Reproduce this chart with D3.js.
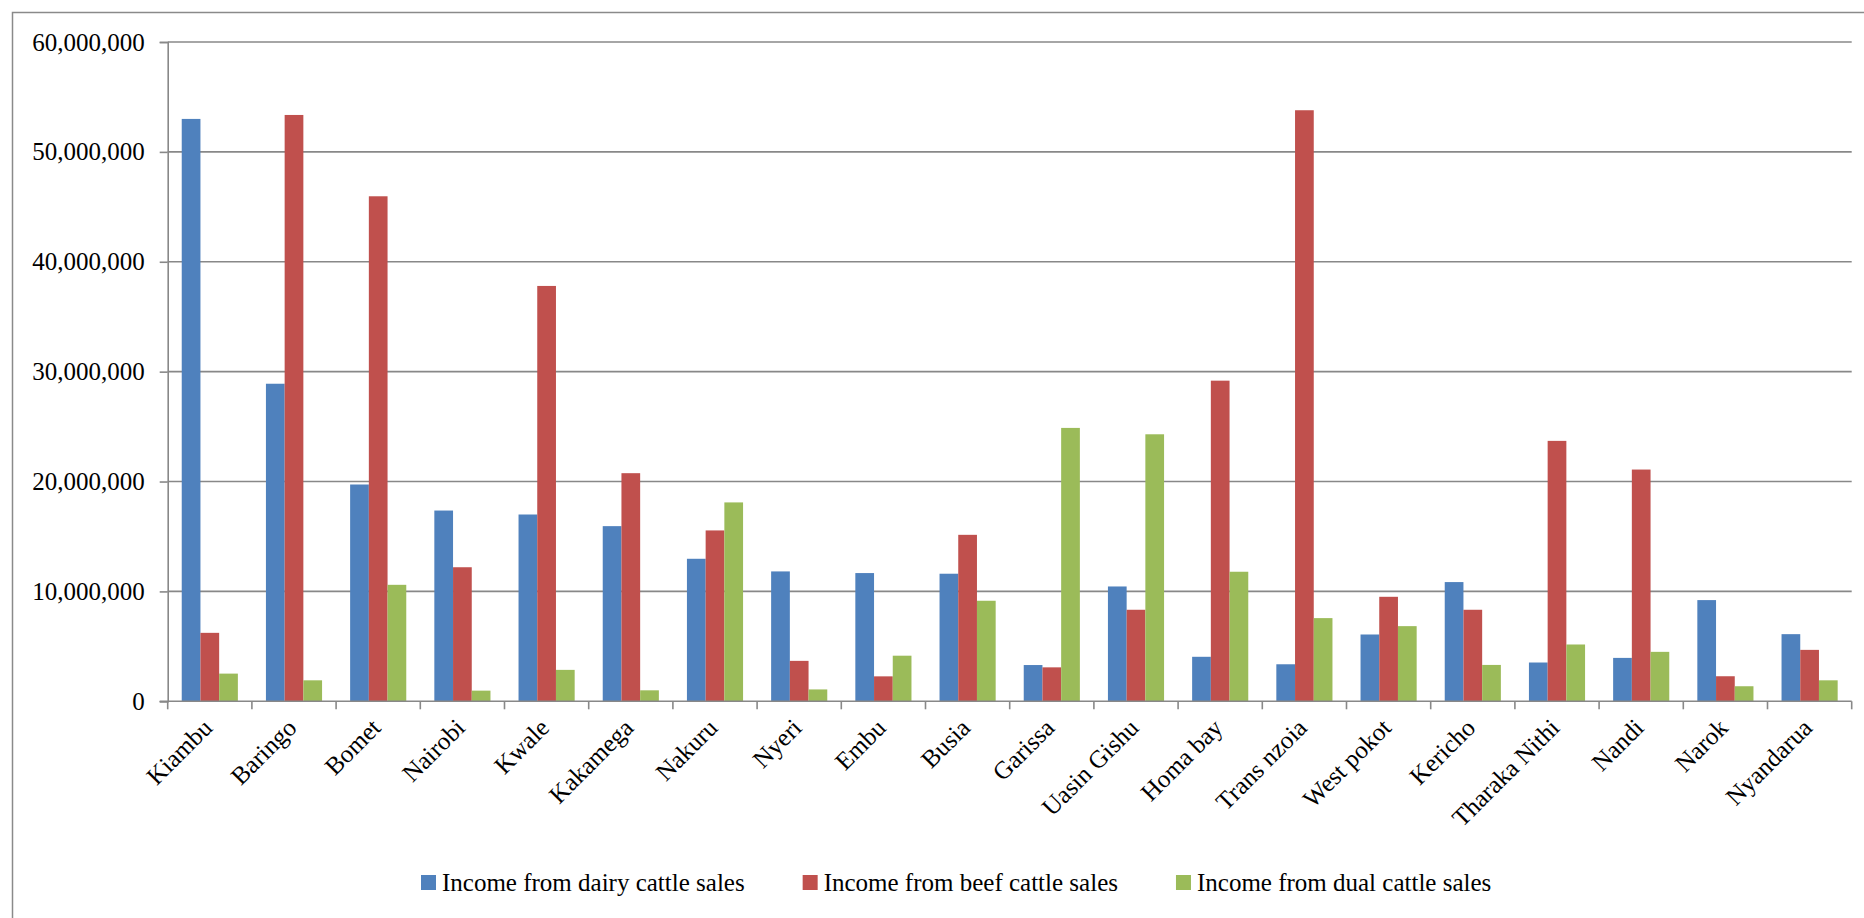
<!DOCTYPE html>
<html>
<head>
<meta charset="utf-8">
<script src="https://cdn.jsdelivr.net/npm/d3@7"></script>
<style>
  html, body { margin: 0; padding: 0; background: #ffffff; }
  svg { display: block; }
  text { font-family: "Liberation Serif", "Times New Roman", serif; fill: #000; }
</style>
</head>
<body>
<svg id="chart" width="1864" height="918"></svg>
<script>
const categories = ["Kiambu","Baringo","Bomet","Nairobi","Kwale","Kakamega","Nakuru","Nyeri","Embu","Busia","Garissa","Uasin Gishu","Homa bay","Trans nzoia","West pokot","Kericho","Tharaka Nithi","Nandi","Narok","Nyandarua"];
const seriesNames = ["Income from dairy cattle sales","Income from beef cattle sales","Income from dual cattle sales"];
const dairy = [53000000,28900000,19730000,17360000,17000000,15940000,12970000,11820000,11670000,11610000,3300000,10450000,4050000,3370000,6080000,10850000,3530000,3950000,9210000,6110000];
const beef  = [6230000,53360000,45960000,12200000,37800000,20760000,15550000,3680000,2270000,15150000,3090000,8330000,29180000,53790000,9510000,8330000,23700000,21090000,2280000,4680000];
const dual  = [2520000,1910000,10600000,970000,2860000,1000000,18100000,1080000,4150000,9150000,24880000,24300000,11790000,7570000,6840000,3310000,5170000,4500000,1370000,1910000];
const yTicks = [0,10000000,20000000,30000000,40000000,50000000,60000000];
const colors = ["#4F81BD","#C0504D","#9BBB59"];

(function () {
const FONT = '"Liberation Serif", "Times New Roman", serif';
const svg = d3.select("#chart");
const pLeft = 167.7, pRight = 1851.7, pTop = 42, pBottom = 701.3;
const gridColor = "#888888";

// outer chart border
svg.append("rect").attr("x", 12.5).attr("y", 12.5).attr("width", 1864).attr("height", 918)
  .attr("fill", "none").attr("stroke", "#8a8a8a").attr("stroke-width", 1.5);

const x0 = d3.scaleBand().domain(categories).range([pLeft, pRight]).paddingInner(0).paddingOuter(0);
// gap width 150% => each bar = band/4.5
const x1 = d3.scaleBand().domain(d3.range(3)).range([0, x0.bandwidth()]).paddingInner(0).paddingOuter(0.75);
const y = d3.scaleLinear().domain([0, 60000000]).range([pBottom, pTop]);

// gridlines
svg.append("g").selectAll("line").data(yTicks.filter(d => d > 0)).join("line")
  .attr("x1", pLeft).attr("x2", pRight)
  .attr("y1", d => y(d)).attr("y2", d => y(d))
  .attr("stroke", gridColor).attr("stroke-width", 1.6);

// bars
const series = [dairy, beef, dual];
const g = svg.append("g");
categories.forEach((c, i) => {
  series.forEach((s, k) => {
    g.append("rect")
      .attr("x", x0(c) + x1(k))
      .attr("width", x1.bandwidth())
      .attr("y", y(s[i]))
      .attr("height", y(0) - y(s[i]))
      .attr("fill", colors[k]);
  });
});

// y axis
const yAxis = d3.axisLeft(y).tickValues(yTicks).tickSize(8).tickPadding(15)
  .tickFormat(d3.format(","));
const yg = svg.append("g").attr("transform", `translate(${pLeft},0)`).call(yAxis)
  .attr("font-family", FONT).attr("font-size", 25);
yg.select(".domain").attr("stroke", gridColor).attr("stroke-width", 1.6);
yg.selectAll(".tick line").attr("stroke", gridColor).attr("stroke-width", 1.6);
yg.selectAll(".tick text").attr("font-size", 25).attr("font-family", FONT).attr("fill", "#000");

// x axis
const xg = svg.append("g").attr("transform", `translate(0,${pBottom})`);
xg.append("line").attr("x1", pLeft - 8).attr("x2", pRight).attr("y1", 0).attr("y2", 0)
  .attr("stroke", gridColor).attr("stroke-width", 1.6);
const bounds = categories.map(c => x0(c)).concat([pRight]);
xg.selectAll("line.tk").data(bounds).join("line").attr("class", "tk")
  .attr("x1", d => d).attr("x2", d => d).attr("y1", 0).attr("y2", 8)
  .attr("stroke", gridColor).attr("stroke-width", 1.6);
xg.selectAll("text.lbl").data(categories).join("text").attr("class", "lbl")
  .attr("transform", d => `translate(${x0(d) + x0.bandwidth() / 2 + 4},${28}) rotate(-45)`)
  .attr("text-anchor", "end")
  .attr("font-family", FONT)
  .attr("font-size", 25)
  .text(d => d);

// legend
const legend = svg.append("g");
let lx = 421;
seriesNames.forEach((name, k) => {
  legend.append("rect").attr("x", lx).attr("y", 875).attr("width", 15).attr("height", 15).attr("fill", colors[k]);
  const t = legend.append("text").attr("x", lx + 21).attr("y", 891)
    .attr("font-family", FONT).attr("font-size", 25).text(name);
  const w = t.node().getComputedTextLength();
  lx = lx + 21 + w + 58;
});
})();
</script>
</body>
</html>
